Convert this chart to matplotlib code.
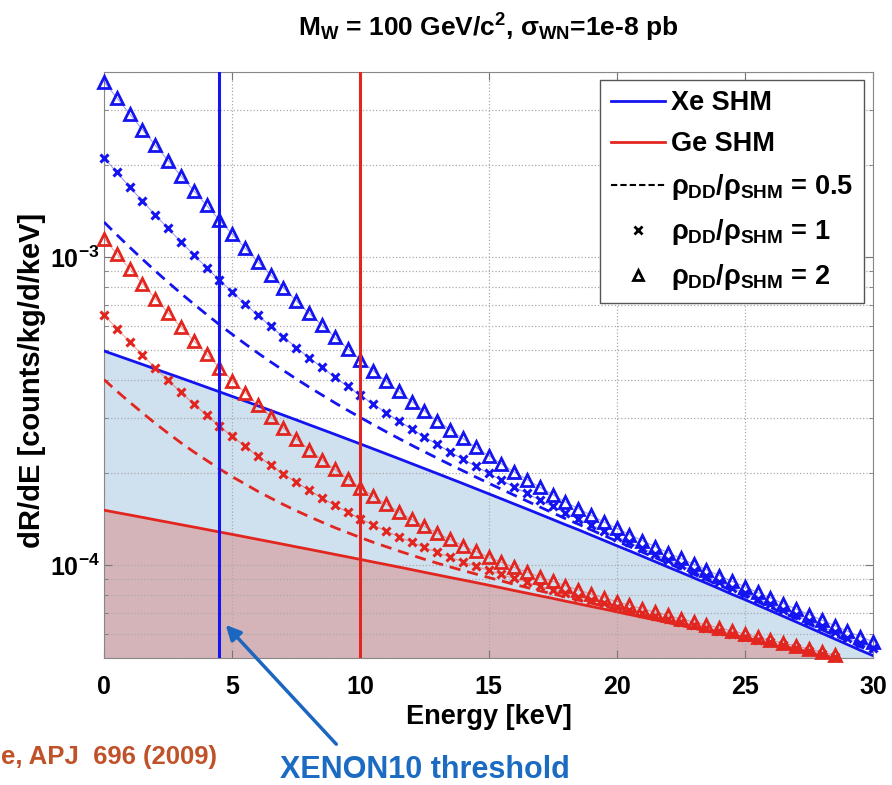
import numpy as np
import matplotlib
matplotlib.use('Agg')
from matplotlib import pyplot as plt
from matplotlib.lines import Line2D
from matplotlib.ticker import FixedLocator, NullFormatter

plt.rcParams['font.family'] = ['Liberation Sans', 'DejaVu Sans']
plt.rcParams['font.weight'] = 'bold'
plt.rcParams['mathtext.fontset'] = 'custom'
plt.rcParams['mathtext.rm'] = 'Liberation Sans:bold'
plt.rcParams['mathtext.it'] = 'Liberation Sans:bold'
plt.rcParams['mathtext.bf'] = 'Liberation Sans:bold'
plt.rcParams['mathtext.sf'] = 'Liberation Sans:bold'

# recoil energy grid [keV]
energy = np.arange(0, 30.5, 0.5)

# dR/dE in units of 1e-4 counts/kg/d/keV
xe_shm = [4.966, 4.803, 4.644, 4.490, 4.341, 4.196, 4.057, 3.921, 3.788, 3.660,
          3.536, 3.416, 3.297, 3.183, 3.073, 2.966, 2.861, 2.761, 2.664, 2.569,
          2.478, 2.389, 2.303, 2.220, 2.139, 2.061, 1.986, 1.913, 1.843, 1.774,
          1.708, 1.644, 1.582, 1.523, 1.465, 1.409, 1.355, 1.305, 1.254, 1.205,
          1.158, 1.114, 1.070, 1.028, 0.987, 0.949, 0.911, 0.875, 0.840, 0.805,
          0.774, 0.742, 0.712, 0.683, 0.655, 0.628, 0.602, 0.577, 0.553, 0.530,
          0.509]
xe_dd05 = [13.02, 11.84, 10.79, 9.865, 9.036, 8.301, 7.642, 7.056, 6.528, 6.050,
           5.626, 5.241, 4.892, 4.578, 4.293, 4.031, 3.791, 3.576, 3.374, 3.189,
           3.021, 2.863, 2.717, 2.582, 2.455, 2.338, 2.228, 2.124, 2.028, 1.935,
           1.849, 1.767, 1.690, 1.617, 1.547, 1.481, 1.418, 1.361, 1.304, 1.250,
           1.198, 1.150, 1.103, 1.059, 1.015, 0.975, 0.936, 0.898, 0.862, 0.826,
           0.794, 0.761, 0.730, 0.700, 0.672, 0.644, 0.618, 0.592, 0.568, 0.544,
           0.523]
xe_dd1 = [21.08, 18.88, 16.94, 15.24, 13.73, 12.41, 11.23, 10.19, 9.268, 8.440,
          7.716, 7.066, 6.487, 5.973, 5.513, 5.096, 4.721, 4.391, 4.084, 3.809,
          3.563, 3.337, 3.131, 2.944, 2.771, 2.614, 2.469, 2.335, 2.212, 2.096,
          1.990, 1.890, 1.797, 1.711, 1.629, 1.553, 1.480, 1.417, 1.354, 1.294,
          1.238, 1.186, 1.136, 1.089, 1.043, 1.001, 0.960, 0.921, 0.883, 0.846,
          0.813, 0.779, 0.748, 0.717, 0.688, 0.660, 0.633, 0.607, 0.582, 0.559,
          0.537]
xe_dd2 = [37.19, 32.96, 29.24, 25.99, 23.12, 20.62, 18.40, 16.46, 14.75, 13.22,
          11.90, 10.72, 9.677, 8.763, 7.953, 7.226, 6.581, 6.021, 5.504, 5.049,
          4.648, 4.285, 3.959, 3.668, 3.403, 3.167, 2.952, 2.757, 2.581, 2.418,
          2.272, 2.136, 2.012, 1.899, 1.793, 1.697, 1.605, 1.529, 1.454, 1.383,
          1.318, 1.258, 1.202, 1.150, 1.099, 1.053, 1.009, 0.967, 0.926, 0.887,
          0.852, 0.816, 0.784, 0.751, 0.721, 0.692, 0.664, 0.637, 0.611, 0.587,
          0.565]

ge_shm = [1.510, 1.483, 1.457, 1.431, 1.405, 1.380, 1.355, 1.331, 1.307, 1.283,
          1.260, 1.237, 1.214, 1.192, 1.170, 1.148, 1.127, 1.106, 1.085, 1.065,
          1.045, 1.025, 1.006, 0.987, 0.968, 0.949, 0.931, 0.913, 0.896, 0.879,
          0.862, 0.845, 0.828, 0.812, 0.796, 0.781, 0.765, 0.750, 0.735, 0.721,
          0.706, 0.692, 0.678, 0.665, 0.651, 0.638, 0.625, 0.612, 0.600, 0.588,
          0.576, 0.564, 0.552, 0.541, 0.530, 0.519, 0.508, 0.497, 0.487, 0.477,
          0.467]
ge_dd05 = [4.010, 3.678, 3.387, 3.126, 2.890, 2.685, 2.500, 2.336, 2.192, 2.058,
           1.940, 1.837, 1.739, 1.654, 1.575, 1.504, 1.440, 1.381, 1.326, 1.277,
           1.231, 1.188, 1.150, 1.113, 1.079, 1.046, 1.016, 0.988, 0.962, 0.937,
           0.913, 0.890, 0.867, 0.847, 0.826, 0.808, 0.789, 0.771, 0.753, 0.737,
           0.720, 0.705, 0.689, 0.675, 0.660, 0.646, 0.633, 0.619, 0.607, 0.594,
           0.582, 0.569, 0.557, 0.546, 0.534, 0.523, 0.512, 0.501]
ge_dd1 = [6.510, 5.873, 5.317, 4.821, 4.375, 3.990, 3.645, 3.341, 3.077, 2.833,
          2.620, 2.437, 2.264, 2.115, 1.980, 1.860, 1.752, 1.655, 1.567, 1.488,
          1.417, 1.351, 1.293, 1.239, 1.189, 1.143, 1.101, 1.063, 1.027, 0.994,
          0.963, 0.934, 0.906, 0.881, 0.856, 0.834, 0.812, 0.791, 0.771, 0.753,
          0.734, 0.717, 0.700, 0.685, 0.669, 0.654, 0.640, 0.626, 0.613, 0.600,
          0.587, 0.574, 0.562, 0.550, 0.539, 0.527, 0.516, 0.504]
ge_dd2 = [11.51, 10.26, 9.177, 8.211, 7.345, 6.600, 5.935, 5.351, 4.847, 4.383,
          3.980, 3.637, 3.314, 3.038, 2.790, 2.572, 2.377, 2.204, 2.049, 1.911,
          1.789, 1.677, 1.580, 1.491, 1.410, 1.337, 1.271, 1.213, 1.158, 1.109,
          1.064, 1.023, 0.984, 0.950, 0.916, 0.887, 0.859, 0.832, 0.807, 0.785,
          0.762, 0.742, 0.722, 0.705, 0.687, 0.670, 0.655, 0.640, 0.626, 0.612,
          0.598, 0.584, 0.571, 0.559, 0.547, 0.535, 0.523, 0.511]

unit = 1e-4
xe_threshold = 4.5   # keV
ge_threshold = 10.0  # keV

blue = '#1414f0'
red = '#e2261f'

fig = plt.figure(figsize=(8.92, 7.85), dpi=100)
ax = fig.add_axes([0.1166, 0.1618, 0.8621, 0.7465])

xe = np.array(xe_shm) * unit
ge = np.array(ge_shm) * unit
ax.fill_between(energy, xe, 1e-6, color='#cfe0ef', lw=0, zorder=0.5)
ax.fill_between(energy, ge, 1e-6, color='#d5b4b9', lw=0, zorder=0.6)

ax.plot(energy, xe, color=blue, lw=2, zorder=3)
ax.plot(energy, ge, color=red, lw=2, zorder=3)

for vals, col in [(xe_dd05, blue), (ge_dd05, red)]:
    ax.plot(energy[:len(vals)], np.array(vals) * unit, '--', color=col, lw=2,
            dashes=(4, 2.5), zorder=3)

for vals, col in [(xe_dd1, blue), (ge_dd1, red)]:
    ax.plot(energy[:len(vals)], np.array(vals) * unit, '-', color=col, lw=0.7,
            alpha=0.45, zorder=3, clip_on=False)
    ax.plot(energy[:len(vals)], np.array(vals) * unit, 'x', color=col, ms=6,
            mew=2.2, zorder=4, clip_on=False)

for vals, col in [(xe_dd2, blue), (ge_dd2, red)]:
    ax.plot(energy[:len(vals)], np.array(vals) * unit, '-', color=col, lw=0.7,
            alpha=0.45, zorder=3, clip_on=False)
    ax.plot(energy[:len(vals)], np.array(vals) * unit, '^', color=col, ms=8,
            mfc='none', mew=2, zorder=4, clip_on=False)

ax.axvline(xe_threshold, color=blue, lw=2.2, zorder=5)
ax.axvline(ge_threshold, color=red, lw=2.2, zorder=5)

ax.set_yscale('log')
ax.set_xlim(0, 30)
ax.set_ylim(5e-5, 4e-3)
ax.xaxis.set_major_locator(FixedLocator([0, 5, 10, 15, 20, 25, 30]))
ax.yaxis.set_major_locator(FixedLocator([1e-4, 1e-3]))
ax.yaxis.set_minor_locator(FixedLocator([k * 1e-5 for k in range(5, 10)] +
                                        [k * 1e-4 for k in range(2, 10)] +
                                        [k * 1e-3 for k in range(2, 5)]))
ax.yaxis.set_minor_formatter(NullFormatter())
ax.set_yticklabels([r'$10^{-4}$', r'$10^{-3}$'])
ax.tick_params(which='both', direction='in', top=True, right=True, color='#777777')
ax.tick_params(which='major', length=6, labelsize=18)
ax.tick_params(axis='x', pad=12)
ax.tick_params(axis='y', pad=3)
ax.tick_params(which='minor', length=3)
ax.grid(True, which='both', ls=':', color='#aaaaaa', lw=0.9)
for s in ax.spines.values():
    s.set_color('#888888')

fig.text(0.5476, 0.965, r'M$_\mathregular{W}$ = 100 GeV/c$^\mathregular{2}$, $\sigma_\mathregular{WN}$=1e-8 pb',
         ha='center', va='center', fontsize=19)
fig.text(0.5476, 0.087, 'Energy [keV]', ha='center', va='center', fontsize=19.5)
fig.text(0.036, 0.515, 'dR/dE [counts/kg/d/keV]', ha='center', va='center',
         rotation=90, fontsize=21)

handles = [Line2D([], [], color=blue, lw=2),
           Line2D([], [], color=red, lw=2),
           Line2D([], [], color='k', ls='--', lw=1.5, dashes=(3, 1.5)),
           Line2D([], [], color='k', ls='none', marker='x', ms=6, mew=2),
           Line2D([], [], color='k', ls='none', marker='^', ms=7, mfc='none', mew=2)]
labels = ['Xe SHM', 'Ge SHM',
          r'$\rho_{DD}/\rho_{SHM}$ = 0.5',
          r'$\rho_{DD}/\rho_{SHM}$ = 1',
          r'$\rho_{DD}/\rho_{SHM}$ = 2']
leg = ax.legend(handles, labels, loc='upper right', bbox_to_anchor=(0.988, 0.987),
                borderaxespad=0, fontsize=19.5, fancybox=False, framealpha=1,
                edgecolor='#555555', handlelength=2.0, handletextpad=0.2,
                labelspacing=0.55, borderpad=0.4)
leg.get_frame().set_linewidth(1)
leg.set_zorder(10)

ax.annotate('', xy=(4.75, 6.4e-5), xycoords='data',
            xytext=(0.377, 0.052), textcoords='figure fraction',
            arrowprops=dict(arrowstyle='-|>', color='#1a66c0', lw=2.5,
                            mutation_scale=22, shrinkA=0, shrinkB=0),
            annotation_clip=False, zorder=11)
fig.text(0.4765, 0.019, 'XENON10 threshold', ha='center', va='center',
         color='#1a6bc1', fontsize=22)
fig.text(0.001, 0.036, 'e, APJ  696 (2009)', ha='left', va='center',
         color='#c0522a', fontsize=18.5)

fig.savefig('out.png', dpi=100)
